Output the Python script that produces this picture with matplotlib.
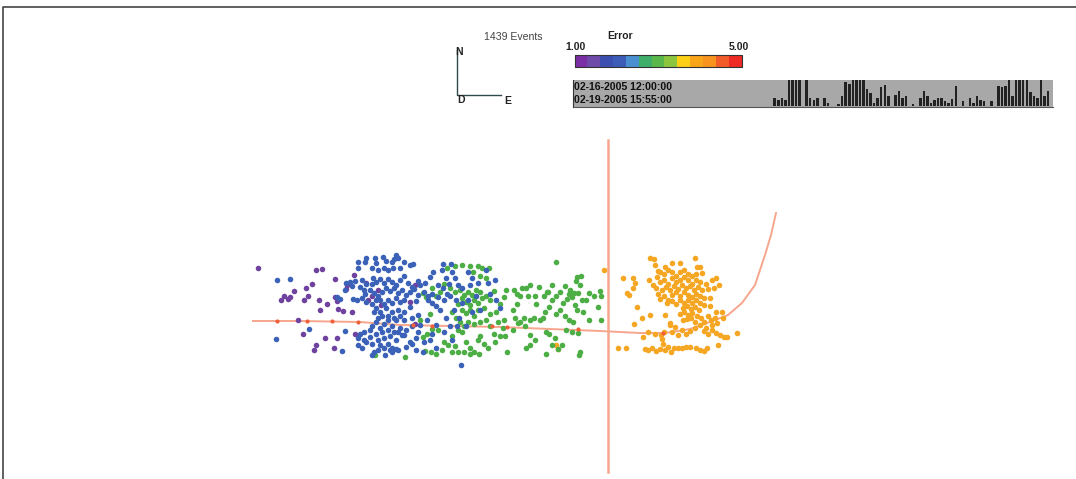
import matplotlib
matplotlib.use("Agg")
import matplotlib.pyplot as plt
from matplotlib.patches import Rectangle

plt.rcParams['font.family'] = ['Liberation Sans', 'DejaVu Sans']

event_count_label = "1439 Events"
start_label = "02-16-2005 12:00:00"
end_label = "02-19-2005 15:55:00"
scale_colors = ['#7b2fa5', '#6f4aa8', '#3a4fb0', '#3c5cb8', '#4a90d0', '#3fae6a', '#5ab84a',
                '#8cc63f', '#fdd017', '#f9a51a', '#f7931e', '#f15a29', '#ee2a24']
hist_counts = [22, 18, 24, 16, 78, 78, 78, 78, 0, 78, 24, 16, 24, 0, 24, 8, 0, 0, 6, 28, 70, 65, 78, 78,
               78, 78, 50, 38, 8, 22, 55, 62, 30, 0, 32, 45, 24, 30, 0, 6, 0, 22, 45, 30, 8, 16, 22, 22,
               14, 8, 20, 60, 0, 14, 0, 24, 8, 30, 16, 14, 0, 14, 0, 60, 55, 60, 78, 30, 78, 78, 78, 78,
               40, 30, 22, 78, 30, 45]

purple = [(258,268),(316,270),(322,269),(335,279),(312,284),(306,288),(294,291),(284,296),(281,300),
          (288,299),(290,297),(304,300),(308,296),(319,300),(327,304),(320,310),(338,309),(343,311),
          (352,312),(335,297),(337,301),(298,320),(303,334),(325,338),(337,338),(316,345),(314,350),
          (334,348),(355,334),(354,275),(347,285),(346,289),(366,283),(372,296),(368,300),(378,290),
          (415,285),(415,324),(381,305),(410,302)]
blue = [(277,280),(290,279),(276,339),(309,329),(342,351),(345,331),(337,297),(340,299),(346,283),
        (350,282),(355,281),(352,286),(345,290),(353,299),(357,300),(358,262),(366,258),(365,262),
        (375,258),(376,263),(383,257),(386,261),(372,268),(358,268),(378,270),(384,268),(388,270),
        (393,268),(392,262),(396,255),(398,258),(394,259),(404,262),(400,268),(410,265),(413,264),
        (373,278),(362,280),(366,284),(360,287),(364,290),(372,284),(376,282),(380,279),(384,283),
        (388,279),(392,282),(396,285),(400,280),(404,276),(408,283),(412,287),(418,281),(420,285),
        (425,283),(430,277),(433,272),(443,264),(442,270),(451,264),(452,272),(446,278),(438,285),
        (443,288),(449,284),(455,278),(458,285),(462,288),(468,272),(472,278),(470,285),(478,283),
        (486,270),(488,283),(495,280),(365,294),(370,290),(374,293),(378,296),(382,292),(386,288),
        (390,291),(394,288),(398,293),(402,290),(406,295),(410,292),(414,289),(418,295),(362,298),
        (366,302),(372,304),(376,300),(380,300),(384,304),(388,300),(392,303),(396,298),(400,302),
        (404,300),(410,307),(416,301),(374,312),(380,312),(386,308),(392,312),(398,310),
        (404,312),(378,318),(382,316),(388,316),(394,318),(376,322),(372,326),(384,324),(388,320),
        (392,326),(380,328),(370,330),(364,332),(360,334),(358,338),(364,340),(370,337),(376,334),
        (382,332),(388,330),(394,332),(400,328),(406,330),(412,326),(358,345),(362,348),(372,344),
        (378,340),(384,338),(390,336),(396,340),(402,335),(410,342),(374,352),(378,350),(380,345),
        (384,348),(388,344),(392,352),(396,349),(390,350),(385,355),(392,348),(398,350),(372,355),
        (366,342),(406,347),(412,344),(416,350),(423,352),(432,334),(430,340),(436,325),(427,320),
        (428,300),(432,303),(436,306),(440,310),(418,315),(420,325),(446,318),(450,326),(444,332),
        (452,340),(457,326),(459,318),(462,303),(461,365),(468,300),(476,296),(472,312),(480,310),
        (490,294),(496,300),(500,308),(404,320),(432,294),(438,297),(444,300),(450,296),(456,300),
        (424,292),(428,296),(412,318),(418,332),(424,342),(436,348),(466,326),(454,310),(447,294),
        (416,338),(404,335),(396,320),(400,316),(376,308),(398,332)]
green = [(375,355),(405,357),(423,293),(426,297),(432,288),(436,296),(440,292),(447,268),(455,266),
         (462,265),(470,266),(478,266),(482,268),(489,268),(473,272),(480,276),(486,278),(444,284),
         (450,288),(455,292),(460,290),(464,295),(468,292),(472,295),(476,290),(480,292),(462,298),
         (466,302),(470,305),(474,300),(478,303),(482,298),(486,296),(490,300),(494,291),(458,304),
         (462,310),(466,313),(470,310),(474,316),(478,310),(484,308),(490,314),(496,312),(452,312),
         (456,318),(460,322),(464,326),(468,322),(474,324),(480,322),(486,320),(498,322),(504,320),
         (500,304),(504,297),(506,290),(514,290),(517,294),(520,296),(526,288),(530,285),(535,296),
         (539,287),(547,292),(552,285),(556,262),(560,292),(565,286),(570,290),(576,281),(577,277),
         (574,293),(572,297),(581,276),(580,285),(582,300),(589,293),(594,296),(600,291),(601,296),
         (598,307),(517,304),(513,310),(515,318),(520,322),(524,318),(530,320),(534,318),
         (540,320),(543,318),(545,312),(549,307),(556,314),(560,310),(565,316),(569,320),(573,322),
         (575,305),(577,310),(583,312),(589,320),(601,320),(567,299),(563,303),(552,300),(536,304),
         (528,296),(522,288),(548,292),(544,296),(556,296),(569,294),(578,293),(586,300),(503,328),
         (505,336),(507,352),(513,330),(518,323),(525,326),(530,335),(535,340),(530,345),(526,348),
         (546,332),(549,334),(552,345),(546,354),(555,338),(558,349),(562,345),(566,330),(572,332),
         (578,333),(580,352),(579,355),(423,337),(427,334),(432,329),(438,330),(444,342),(448,345),
         (452,336),(455,346),(458,330),(462,332),(466,342),(470,348),(474,352),(478,340),(480,336),
         (484,344),(488,348),(495,342),(436,354),(442,350),(452,352),(458,352),(464,352),(470,354),
         (425,351),(431,352),(479,354),(490,326),(494,334),(500,336),(420,320),(430,314)]
orange = [(604,270),(623,278),(633,278),(635,283),(633,288),(627,293),(629,295),(637,307),(642,318),
          (650,315),(634,324),(618,348),(626,348),(643,337),(665,315),(670,323),(737,333),(718,345),
          (727,337),(650,258),(654,259),(655,265),(658,271),(665,267),(672,263),(680,263),(695,258),
          (697,267),(700,267),(702,273),(649,280),(653,285),(657,277),(660,272),(664,274),(668,270),
          (672,272),(676,276),(680,272),(684,270),(688,274),(692,276),(696,274),(656,288),(660,282),
          (664,280),(668,284),(672,278),(676,282),(680,280),(684,277),(688,280),(692,284),(696,280),
          (700,282),(706,284),(712,280),(716,278),(658,294),(662,290),(666,287),(670,290),(674,286),
          (678,289),(682,285),(686,288),(690,286),(694,290),(698,287),(702,290),(708,289),(714,288),
          (719,285),(660,299),(664,296),(668,300),(672,295),(676,292),(680,296),(684,292),(688,295),
          (692,297),(696,294),(700,296),(704,298),(710,298),(667,303),(672,301),(676,304),(680,300),
          (684,303),(688,300),(692,303),(696,300),(700,303),(704,305),(710,306),(683,308),(687,306),
          (691,309),(695,307),(699,310),(680,314),(684,312),(688,315),(692,313),(697,316),(683,320),
          (687,319),(691,318),(695,322),(701,318),(704,322),(708,316),(711,320),(716,312),(722,312),
          (723,318),(715,318),(717,323),(712,325),(706,328),(700,325),(704,331),(708,334),(712,330),
          (716,333),(720,335),(724,337),(695,328),(690,331),(686,334),(682,330),(678,335),(672,332),
          (664,332),(655,334),(645,349),(648,350),(652,348),(656,351),(660,349),(663,344),(662,339),
          (661,335),(665,350),(668,347),(671,352),(674,348),(678,348),(682,348),(686,347),(690,347),
          (696,348),(700,350),(704,351),(707,348),(670,325),(675,327),(558,349),(556,345),(648,332)]
track_x = [253, 300, 360, 400, 450, 500, 550, 600, 640, 665, 690, 710, 728, 742, 755, 765, 771, 776]
track_y = [321, 321, 322, 325, 326, 327, 329, 331, 333, 333, 329, 322, 315, 303, 285, 255, 235, 213]
event_x = [277, 307, 332, 358, 413, 432, 492, 507, 578, 663]
event_y = [321, 321, 321, 322, 325, 326, 326, 327, 329, 333]
cross_x = [607.5, 607.5]
cross_y = [140, 472]

fig = plt.figure(figsize=(10.76, 4.79), dpi=100)
ax = fig.add_axes([0, 0, 1, 1])
ax.set_xlim(0, 1076)
ax.set_ylim(479, 0)
ax.axis('off')

# outer frame: top and left edges only
ax.plot([2.5, 2.5, 1076], [479, 6.5, 6.5], color='#444444', lw=1.2)

# compass
ax.plot([456.5, 456.5, 501], [50, 95, 95], color='#2f4a4a', lw=1.0)
for s, x, y in [('N', 459, 52), ('D', 461, 100), ('E', 508, 101)]:
    ax.text(x, y, s, fontsize=7.5, fontweight='bold', ha='center', va='center', color='#222222')

ax.text(513, 36.5, event_count_label, fontsize=7.6, ha='center', va='center', color='#444444')
ax.text(620, 36, 'Error', fontsize=7.5, fontweight='bold', ha='center', va='center', color='#222222')
ax.text(565, 47, '1.00', fontsize=7.5, fontweight='bold', ha='left', va='center', color='#222222')
ax.text(749, 47, '5.00', fontsize=7.5, fontweight='bold', ha='right', va='center', color='#222222')

# error colour scale
cell = (741.5 - 574.5) / len(scale_colors)
for i, c in enumerate(scale_colors):
    ax.add_patch(Rectangle((574.5 + i * cell, 55), cell, 12, color=c, lw=0))
ax.add_patch(Rectangle((574.5, 55), 167, 12, fill=False, ec='#333333', lw=0.8))

# time panel
ax.add_patch(Rectangle((573, 80), 480, 27, fc='#a8a8a8', ec='none'))
ax.plot([573, 573], [80, 107], color='#333333', lw=0.8)
ax.plot([573, 1053], [107, 107], color='#555555', lw=0.8)
ax.text(574, 86.5, start_label, fontsize=7.6, fontweight='bold', ha='left', va='center', color='#111111')
ax.text(574, 99.5, end_label, fontsize=7.6, fontweight='bold', ha='left', va='center', color='#111111')
for i, h in enumerate(hist_counts):
    if h:
        ax.bar(774.7 + i * 3.55, h / 3, width=2.5, bottom=105.7 - h / 3, color='#222222', lw=0)

# tracks
ax.plot(cross_x, cross_y, color='#f6a68c', lw=1.8, zorder=2)
ax.plot(track_x, track_y, color='#f6a68c', lw=1.4, zorder=2)

# events
for pts, c in [(purple, '#6f42a0'), (orange, '#f5a623'), (green, '#4cae45'), (blue, '#3b62b8')]:
    ax.scatter([p[0] for p in pts], [p[1] for p in pts], s=16, marker='o', color=c, lw=0, zorder=3)
ax.scatter(event_x, event_y, s=9, marker='o', color='#f0603a', lw=0, zorder=4)

fig.savefig('out.png', dpi=100)
